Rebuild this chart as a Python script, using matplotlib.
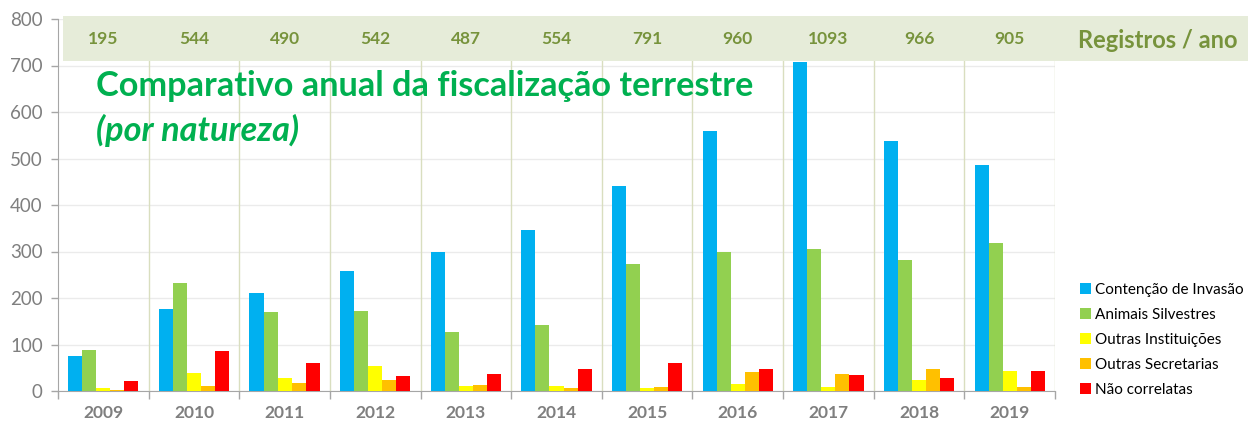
import matplotlib.pyplot as plt
import numpy as np
from matplotlib.patches import Rectangle

years = ['2009', '2010', '2011', '2012', '2013', '2014', '2015', '2016', '2017', '2018', '2019']
totals = [195, 544, 490, 542, 487, 554, 791, 960, 1093, 966, 905]
series_names = ['Contenção de Invasão', 'Animais Silvestres', 'Outras Instituições',
                'Outras Secretarias', 'Não correlatas']
invasao = [75, 176, 210, 258, 298, 346, 440, 560, 707, 538, 487]
silvestres = [89, 233, 169, 172, 127, 141, 274, 298, 306, 281, 318]
instituicoes = [7, 39, 29, 53, 11, 11, 6, 14, 9, 24, 43]
secretarias = [2, 11, 18, 23, 12, 7, 9, 40, 37, 48, 9]
nao_correlatas = [22, 85, 61, 33, 37, 47, 60, 47, 34, 29, 42]
colors = ['#00B0F0', '#92D050', '#FFFF00', '#FFC000', '#FF0000']

plt.rcParams['font.family'] = ['Lato', 'DejaVu Sans']

fig = plt.figure(figsize=(12.48, 4.24), dpi=100)
ax = fig.add_axes([58 / 1248, 1 - 391 / 424, (1055 - 58) / 1248, (391 - 19) / 424])

x = np.arange(len(years))
bw = 0.155
data = [invasao, silvestres, instituicoes, secretarias, nao_correlatas]
for i, vals in enumerate(data):
    ax.bar(x + (i - 2) * bw, vals, bw, color=colors[i], label=series_names[i], zorder=3)

ax.set_xlim(-0.5, len(years) - 0.5)
ax.set_ylim(0, 800)
ax.set_yticks(np.arange(0, 801, 100))
ax.set_xticks(x)
ax.set_xticklabels(years, fontweight='bold')
ax.set_xticks(np.arange(-0.5, len(years), 1), minor=True)

ax.tick_params(axis='y', color='#A6A6A6', labelcolor='#7F7F7F', labelsize=13.5, length=5,
               width=1, pad=6)
ax.tick_params(axis='x', which='major', length=0, labelsize=12.5, labelcolor='#7F7F7F', pad=10)
ax.tick_params(axis='x', which='minor', length=6, color='#A6A6A6', width=1)

for s in ['top', 'right']:
    ax.spines[s].set_visible(False)
ax.spines['left'].set_color('#A6A6A6')
ax.spines['bottom'].set_color('#A6A6A6')

ax.yaxis.grid(True, color='#EBEBEB', linewidth=1, zorder=0)
for b in np.arange(0.5, len(years), 1):
    ax.axvline(b, color='#D9DEBF', linewidth=1, zorder=1)
ax.set_axisbelow(True)

# banner with yearly totals
ax.add_patch(Rectangle((-0.445, 710), 13.2, 97, facecolor='#E6ECD9', edgecolor='none',
                       clip_on=False, zorder=2))
for xi, t in zip(x, totals):
    ax.text(xi, 758, str(t), ha='center', va='center', fontsize=12.5, fontweight='bold',
            color='#77933C', zorder=4)
fig.text(1158 / 1248, 1 - 41 / 424, 'Registros / ano', ha='center', va='center',
         fontsize=17, fontweight='bold', color='#77933C')

fig.text(96 / 1248, 1 - 86 / 424, 'Comparativo anual da fiscalização terrestre',
         ha='left', va='center', fontsize=24.7, fontweight='bold', color='#00B050')
fig.text(96 / 1248, 1 - 130 / 424, '(por natureza)', ha='left', va='center',
         fontsize=24.7, fontweight='bold', style='italic', color='#00B050')

fig.legend(loc='upper left', bbox_to_anchor=(1080 / 1248, 1 - 283 / 424), frameon=False,
           fontsize=11, handlelength=0.7, handleheight=0.7, handletextpad=0.3,
           labelspacing=0.72, borderaxespad=0, borderpad=0)

fig.savefig('out.png', dpi=100)
